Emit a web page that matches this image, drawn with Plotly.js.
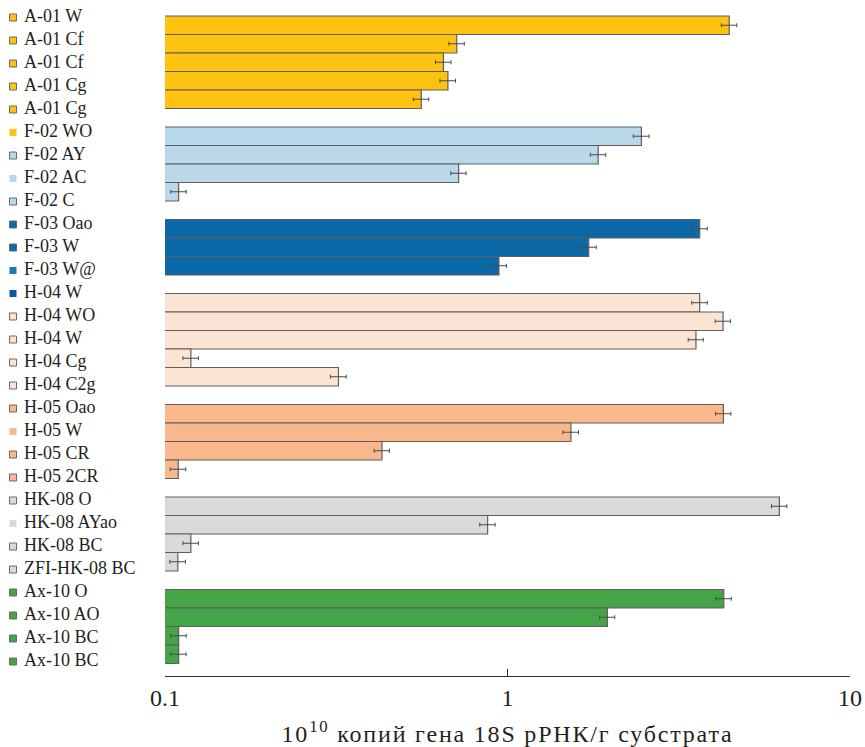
<!DOCTYPE html>
<html>
<head>
<meta charset="utf-8">
<script src="https://cdn.plot.ly/plotly-3.0.1.min.js"></script>
<style>
html,body{margin:0;padding:0;background:#fff;}
#chart{width:865px;height:747px;}
#chart .xtitle{letter-spacing:1.8px;}
</style>
</head>
<body>
<div id="chart"></div>
<script>
// ---- data ----
const groupNames = ["A-01", "F-02", "F-03", "H-04", "H-05", "HK-08", "Ax-10"];
const groupColors = ["#fec211", "#b9d8ea", "#0a69a6", "#fce4d5", "#f8b88b", "#dadada", "#45a447"];
const groupValues = [
  [4.44, 0.711, 0.650, 0.670, 0.560],
  [2.46, 1.84, 0.72, 0.1096],
  [3.64, 1.726, 0.944],
  [3.64, 4.26, 3.55, 0.119, 0.321],
  [4.27, 1.532, 0.430, 0.1093],
  [6.22, 0.875, 0.119, 0.109],
  [4.28, 1.957, 0.1096, 0.1096]
];
const groupErrors = [
  [0.23, 0.037, 0.034, 0.035, 0.029],
  [0.13, 0.095, 0.037, 0.0057],
  [0.19, 0.09, 0.049],
  [0.19, 0.22, 0.18, 0.0062, 0.017],
  [0.22, 0.08, 0.022, 0.0057],
  [0.32, 0.045, 0.0062, 0.0057],
  [0.22, 0.1, 0.0057, 0.0057]
];
const labels = [
  "A-01 W", "A-01 Cf", "A-01 Cf", "A-01 Cg", "A-01 Cg",
  "F-02 WO", "F-02 AY", "F-02 AC", "F-02 C",
  "F-03 Oao", "F-03 W", "F-03 W@",
  "H-04 W", "H-04 WO", "H-04 W", "H-04 Cg", "H-04 C2g",
  "H-05 Oao", "H-05 W", "H-05 CR", "H-05 2CR",
  "HK-08 O", "HK-08 AYao", "HK-08 BC", "ZFI-HK-08 BC",
  "Ax-10 O", "Ax-10 AO", "Ax-10 BC", "Ax-10 BC"
];
const labelColors = [
  "#fec211", "#fec211", "#fec211", "#fec211", "#fec211",
  "#fec211", "#b9d8ea", "#b9d8ea", "#b9d8ea",
  "#0a69a6", "#0a69a6", "#1a7ab8",
  "#0a5aa6", "#fce4d5", "#fce4d5", "#fce4d5", "#fce4d5",
  "#f8b88b", "#f8b88b", "#f8b88b", "#f8b88b",
  "#dadada", "#dadada", "#dadada", "#dadada",
  "#45a447", "#45a447", "#45a447", "#45a447"
];
const labelBorder = [
  1, 1, 1, 1, 1,
  0, 1, 0, 1,
  1, 1, 0,
  0, 1, 1, 1, 1,
  1, 0, 1, 1,
  1, 0, 1, 1,
  1, 1, 1, 1
];
const xTickVals = [0.1, 1, 10];
const xTickText = ["0.1", "1", "10"];
const xTitle = "10<sup>10</sup> копий гена 18S рРНК/г субстрата";

// ---- build ----
const FONT = "Liberation Serif";
const traces = [];
let offset = 0;
groupNames.forEach((g, gi) => {
  const vals = groupValues[gi];
  const ys = vals.map((v, j) => offset + j);
  traces.push({
    type: "bar", orientation: "h", name: g,
    x: vals, y: ys, width: 1,
    marker: {color: groupColors[gi], line: {color: "#5f5f5f", width: 1.2}},
    error_x: {type: "data", array: groupErrors[gi], visible: true, color: "#4a4a4a", thickness: 1, width: 2},
    showlegend: false, hoverinfo: "x+name"
  });
  offset += vals.length + 1;
});
const totalSlots = offset - 1;

const idx = labels.map((_, i) => i);
traces.push({
  type: "scatter", mode: "markers", xaxis: "x2", yaxis: "y2",
  x: labels.map(() => 13), y: idx,
  marker: {symbol: "square", size: 7, color: labelColors,
           line: {color: "#6a6a6a", width: labelBorder.map(b => b ? 1 : 0)}},
  showlegend: false, hoverinfo: "skip"
});
traces.push({
  type: "scatter", mode: "text", xaxis: "x2", yaxis: "y2",
  x: labels.map(() => 24), y: idx, text: labels,
  textposition: "middle right",
  textfont: {family: FONT, size: 18, color: "#231f20"},
  showlegend: false, hoverinfo: "skip"
});

const layout = {
  width: 865, height: 747,
  margin: {l: 0, r: 0, t: 6, b: 71},
  paper_bgcolor: "#fff", plot_bgcolor: "rgba(0,0,0,0)",
  bargap: 0,
  font: {family: FONT, color: "#231f20"},
  xaxis: {
    type: "log", domain: [165/865, 850/865], range: [-1, 1],
    tickvals: xTickVals, ticktext: xTickText,
    ticks: "inside", ticklen: 7, tickcolor: "#333", tickwidth: 1,
    showline: true, linecolor: "#333", linewidth: 1,
    showgrid: false, zeroline: false,
    tickfont: {family: FONT, size: 24, color: "#231f20"},
    title: {text: xTitle, font: {family: FONT, size: 24, color: "#231f20"}, standoff: 15}
  },
  yaxis: {
    visible: false, range: [totalSlots - 0.5 + 0.676, -0.5 - 0.54],
    showgrid: false, zeroline: false
  },
  xaxis2: {domain: [0, 160/865], range: [0, 160], visible: false, anchor: "y2"},
  yaxis2: {domain: [0, 1], range: [28.63, -0.5], visible: false, anchor: "x2"}
};

Plotly.newPlot("chart", traces, layout, {displayModeBar: false, staticPlot: true});
</script>
</body>
</html>
